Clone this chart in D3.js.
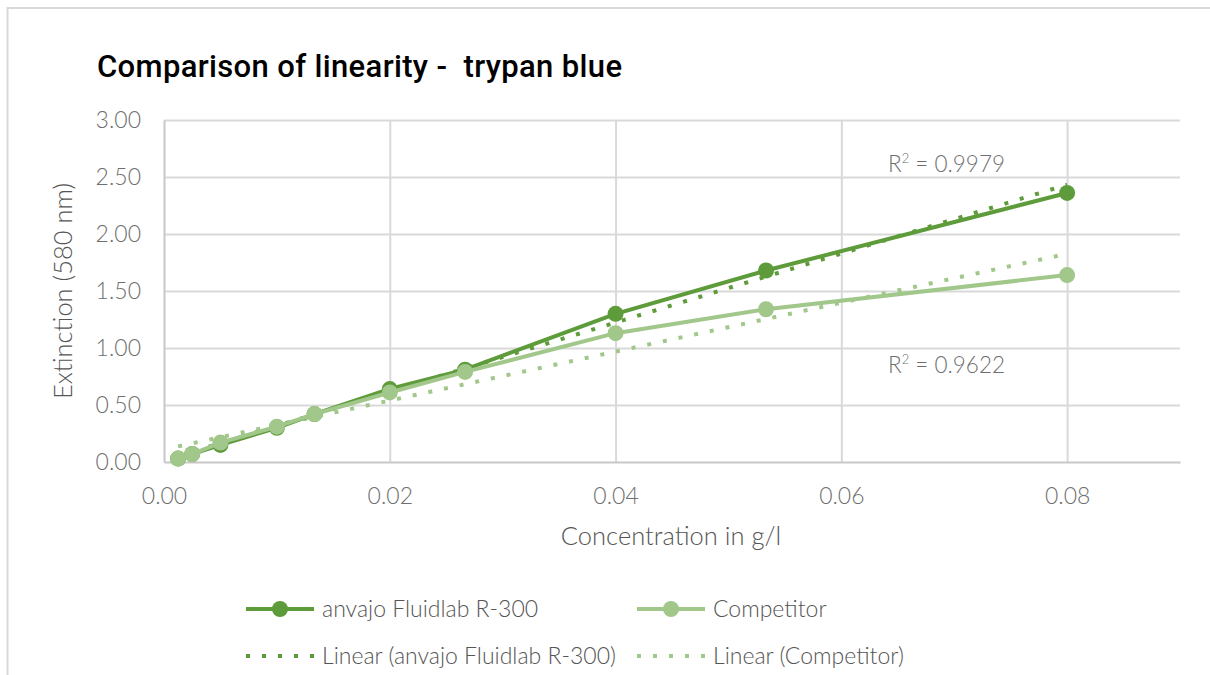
<!DOCTYPE html>
<html>
<head>
<meta charset="utf-8">
<script src="https://cdn.jsdelivr.net/npm/d3@7"></script>
<style>
  body { margin: 0; background: #fff; }
  svg { display: block; }
  .tick text { font-family: Lato, sans-serif; font-weight: 300; fill: #6f6f6f; }
</style>
</head>
<body>
<svg id="chart" width="1210" height="675"></svg>
<script>
// concentrations in g/l
var concentrations = [0.00125, 0.0025, 0.005, 0.01, 0.01333, 0.02, 0.02667, 0.04, 0.05333, 0.08];
var anvajoValues = [0.03, 0.07, 0.15, 0.30, 0.42, 0.64, 0.81, 1.30, 1.68, 2.36];
var competitorValues = [0.03, 0.07, 0.17, 0.31, 0.42, 0.61, 0.79, 1.13, 1.34, 1.64];
var seriesNames = ["anvajo Fluidlab R-300", "Competitor"];
var r2Labels = ["0.9979", "0.9622"];
var xTicks = [0, 0.02, 0.04, 0.06, 0.08];
var yTicks = [0, 0.5, 1, 1.5, 2, 2.5, 3];

var darkGreen = "#5e9b3a", lightGreen = "#a1c78b";

var svg = d3.select("#chart");

var x = d3.scaleLinear().domain([0, 0.09]).range([164, 1180]);
var y = d3.scaleLinear().domain([0, 3]).range([462, 120]);

// chart frame
svg.append("path")
    .attr("d", "M7.5,700 V8 H1220")
    .attr("fill", "none")
    .attr("stroke", "#d9d9d9")
    .attr("stroke-width", 2);

// title
svg.append("text")
    .attr("x", 97).attr("y", 77)
    .attr("textLength", 525)
    .attr("lengthAdjust", "spacing")
    .style("font-family", "Roboto, sans-serif")
    .style("font-weight", 500)
    .style("font-size", "31px")
    .style("white-space", "pre")
    .attr("fill", "#000")
    .text("Comparison of linearity -  trypan blue");

// grid lines
svg.append("g")
    .attr("transform", "translate(0," + y(0) + ")")
    .call(d3.axisBottom(x).tickValues(xTicks.slice(1)).tickSize(-(y(0) - y(3))).tickFormat(""))
    .call(g => g.select(".domain").remove())
    .call(g => g.selectAll("line").attr("stroke", "#d9d9d9").attr("stroke-width", 2));

svg.append("g")
    .attr("transform", "translate(" + x(0) + ",0)")
    .call(d3.axisLeft(y).tickValues(yTicks.slice(1)).tickSize(-(x(0.09) - x(0))).tickFormat(""))
    .call(g => g.select(".domain").remove())
    .call(g => g.selectAll("line").attr("stroke", "#d9d9d9").attr("stroke-width", 2));

// axes
var xAxis = svg.append("g")
    .attr("transform", "translate(0," + y(0) + ")")
    .call(d3.axisBottom(x).tickValues(xTicks).tickSize(0).tickPadding(26).tickFormat(d3.format(".2f")));
xAxis.select(".domain").attr("stroke", "#c8c8c8").attr("stroke-width", 2);
xAxis.selectAll("text").style("font-size", "23px");

var yAxis = svg.append("g")
    .attr("transform", "translate(" + x(0) + ",0)")
    .call(d3.axisLeft(y).tickValues(yTicks).tickSize(0).tickPadding(23).tickFormat(d3.format(".2f")));
yAxis.select(".domain").attr("stroke", "#c8c8c8").attr("stroke-width", 2);
yAxis.selectAll("text").style("font-size", "23px");

// axis titles
svg.append("text")
    .attr("x", 671).attr("y", 545)
    .attr("text-anchor", "middle")
    .style("font-family", "Lato, sans-serif").style("font-weight", 300)
    .style("font-size", "25.5px").attr("fill", "#555")
    .text("Concentration in g/l");

svg.append("text")
    .attr("transform", "translate(72,291) rotate(-90)")
    .attr("text-anchor", "middle")
    .style("font-family", "Lato, sans-serif").style("font-weight", 300)
    .style("font-size", "25.5px").attr("fill", "#555")
    .text("Extinction (580 nm)");

// series
var series = [
    {name: seriesNames[0], values: anvajoValues, color: darkGreen, r2: r2Labels[0]},
    {name: seriesNames[1], values: competitorValues, color: lightGreen, r2: r2Labels[1]}
];

function linearFit(xs, ys) {
    var mx = d3.mean(xs), my = d3.mean(ys);
    var sxy = d3.sum(xs, (v, i) => (v - mx) * (ys[i] - my));
    var sxx = d3.sum(xs, v => (v - mx) * (v - mx));
    var slope = sxy / sxx;
    return {slope: slope, intercept: my - slope * mx};
}

var line = d3.line().x(d => x(d[0])).y(d => y(d[1]));

// trend lines first (behind)
series.slice().reverse().forEach(function(s) {
    var fit = linearFit(concentrations, s.values);
    var x0 = d3.min(concentrations), x1 = d3.max(concentrations);
    svg.append("path")
        .attr("d", line([[x0, fit.intercept + fit.slope * x0], [x1, fit.intercept + fit.slope * x1]]))
        .attr("fill", "none")
        .attr("stroke", s.color)
        .attr("stroke-width", 4)
        .attr("stroke-dasharray", "4,12");
});

series.forEach(function(s) {
    var pts = concentrations.map((c, i) => [c, s.values[i]]);
    svg.append("path")
        .attr("d", line(pts))
        .attr("fill", "none")
        .attr("stroke", s.color)
        .attr("stroke-width", 4);
    svg.append("g").selectAll("circle")
        .data(pts).enter().append("circle")
        .attr("cx", d => x(d[0])).attr("cy", d => y(d[1]))
        .attr("r", 8)
        .attr("fill", s.color);
});

// R² labels
var r2Pos = [[888, 172], [888, 373]];
series.forEach(function(s, i) {
    var t = svg.append("text")
        .attr("x", r2Pos[i][0]).attr("y", r2Pos[i][1])
        .style("font-family", "Lato, sans-serif").style("font-weight", 300)
        .style("font-size", "22.5px").attr("fill", "#6f6f6f");
    t.append("tspan").text("R");
    t.append("tspan").attr("dy", -9).style("font-size", "13px").text("2");
    t.append("tspan").attr("dy", 9).text(" = " + s.r2);
});

// legend
var legendItems = [
    {label: seriesNames[0], color: darkGreen, dotted: false, x: 246, y: 609},
    {label: seriesNames[1], color: lightGreen, dotted: false, x: 637, y: 609},
    {label: "Linear (" + seriesNames[0] + ")", color: darkGreen, dotted: true, x: 246, y: 656},
    {label: "Linear (" + seriesNames[1] + ")", color: lightGreen, dotted: true, x: 637, y: 656}
];
var legend = svg.append("g");
legendItems.forEach(function(item) {
    var g = legend.append("g").attr("transform", "translate(" + item.x + "," + item.y + ")");
    g.append("line")
        .attr("x1", 0).attr("x2", 68)
        .attr("stroke", item.color)
        .attr("stroke-width", 4)
        .attr("stroke-dasharray", item.dotted ? "4,12" : null);
    if (!item.dotted) {
        g.append("circle").attr("cx", 34).attr("r", 8).attr("fill", item.color);
    }
    g.append("text")
        .attr("x", 76).attr("y", 8)
        .style("font-family", "Lato, sans-serif").style("font-weight", 300)
        .style("font-size", "23px").attr("fill", "#555")
        .text(item.label);
});
</script>
</body>
</html>
